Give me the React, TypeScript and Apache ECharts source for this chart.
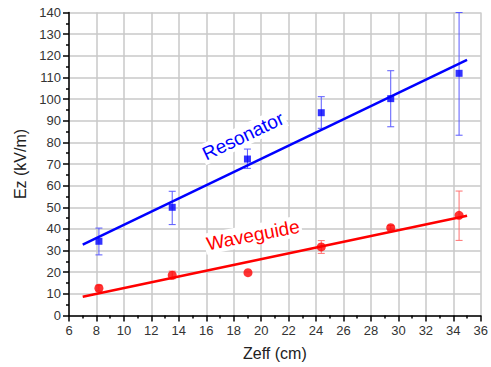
import React, { useEffect, useRef } from "react";
import * as echarts from "echarts";

const resX = [8.18, 13.52, 19.0, 24.38, 29.44, 34.42];
const resY = [34.3, 50.0, 72.3, 93.7, 100.2, 111.9];
const resLow = [28.0, 42.0, 68.0, 86.5, 87.2, 83.3];
const resHigh = [40.4, 57.4, 76.9, 101.1, 113.1, 140.0];

const wgX = [8.18, 13.52, 19.04, 24.38, 29.44, 34.42];
const wgY = [12.6, 18.6, 19.8, 31.7, 40.6, 46.3];
const wgLow = [11.3, 17.0, 19.8, 28.7, 39.6, 34.7];
const wgHigh = [14.0, 20.5, 19.8, 34.6, 41.6, 57.5];

const fitX = [7, 35];
const resFit = [32.8, 118.1];
const wgFit = [8.7, 46.1];

const xName = "Zeff (cm)";
const yName = "Ez (kV/m)";
const resLabel = "Resonator";
const wgLabel = "Waveguide";

const FONT = "'Liberation Sans', Arial, sans-serif";

function errSeries(xs: number[], lows: number[], highs: number[], color: string) {
  return {
    type: "custom",
    z: 3,
    data: xs.map((x, i) => [x, lows[i], highs[i]]),
    encode: { x: 0, y: [1, 2] },
    renderItem: (params: any, api: any) => {
      const x = api.value(0);
      const lo = api.coord([x, api.value(1)]);
      const hi = api.coord([x, api.value(2)]);
      if (Math.abs(lo[1] - hi[1]) < 1) return { type: "group", children: [] };
      const w = 3.5;
      const style = { stroke: color, lineWidth: 1 };
      return {
        type: "group",
        children: [
          { type: "line", shape: { x1: lo[0], y1: lo[1], x2: hi[0], y2: hi[1] }, style },
          { type: "line", shape: { x1: lo[0] - w, y1: lo[1], x2: lo[0] + w, y2: lo[1] }, style },
          { type: "line", shape: { x1: hi[0] - w, y1: hi[1], x2: hi[0] + w, y2: hi[1] }, style },
        ],
      };
    },
  };
}

export default function App() {
  const ref = useRef<HTMLDivElement>(null);
  useEffect(() => {
    const chart = echarts.init(ref.current!, null, { renderer: "svg" });
    const axisCommon = {
      axisLine: { show: true, onZero: false, lineStyle: { color: "#000", width: 1.5 } },
      axisTick: { show: true, inside: false, length: 6, lineStyle: { color: "#000", width: 1.5 } },
      minorTick: { show: true, splitNumber: 2, length: 3, lineStyle: { color: "#000", width: 1.5 } },
      splitLine: { show: true, lineStyle: { color: "#c8c8c8", width: 1.5 } },
      nameLocation: "middle",
      nameTextStyle: { fontFamily: FONT, fontSize: 16, color: "#222" },
    };
    chart.setOption({
      animation: false,
      backgroundColor: "#fff",
      grid: { left: 69, right: 9, top: 12.5, bottom: 51.5, containLabel: false },
      xAxis: {
        type: "value",
        min: 6,
        max: 36,
        interval: 2,
        name: xName,
        nameGap: 30,
        ...axisCommon,
        axisLabel: { fontFamily: FONT, fontSize: 13, color: "#333", margin: 8 },
      },
      yAxis: {
        type: "value",
        min: 0,
        max: 140,
        interval: 10,
        name: yName,
        nameGap: 39,
        ...axisCommon,
        axisLabel: { fontFamily: FONT, fontSize: 13, color: "#333", margin: 8 },
      },
      graphic: [
        {
          type: "text",
          x: 243,
          y: 136,
          rotation: (25.5 * Math.PI) / 180,
          z: 10,
          style: {
            text: resLabel,
            fill: "#0000ff",
            fontFamily: FONT,
            fontSize: 19,
            align: "center",
            verticalAlign: "middle",
            backgroundColor: "#fff",
            padding: [1, 2],
          },
        },
        {
          type: "text",
          x: 253,
          y: 235,
          rotation: (11 * Math.PI) / 180,
          z: 10,
          style: {
            text: wgLabel,
            fill: "#ff0000",
            fontFamily: FONT,
            fontSize: 19,
            align: "center",
            verticalAlign: "middle",
            backgroundColor: "#fff",
            padding: [1, 2],
          },
        },
      ],
      series: [
        {
          type: "line",
          data: fitX.map((x, i) => [x, resFit[i]]),
          symbol: "none",
          lineStyle: { color: "#0000ff", width: 2.5 },
          z: 4,
        },
        {
          type: "line",
          data: fitX.map((x, i) => [x, wgFit[i]]),
          symbol: "none",
          lineStyle: { color: "#ff0000", width: 2.5 },
          z: 4,
        },
        errSeries(resX, resLow, resHigh, "#5a5aff"),
        errSeries(wgX, wgLow, wgHigh, "#ff7070"),
        {
          type: "scatter",
          data: resX.map((x, i) => [x, resY[i]]),
          symbol: "rect",
          symbolSize: 7,
          itemStyle: { color: "#0000ff" },
          z: 5,
        },
        {
          type: "scatter",
          data: wgX.map((x, i) => [x, wgY[i]]),
          symbol: "circle",
          symbolSize: 9,
          itemStyle: { color: "#ff0000" },
          z: 5,
        },
      ],
    });
    return () => chart.dispose();
  }, []);
  return <div ref={ref} style={{ width: 491, height: 367, position: "absolute", left: 0, top: 0 }} />;
}
